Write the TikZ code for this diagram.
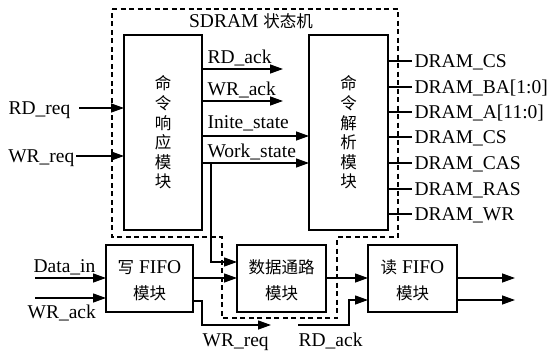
\documentclass[tikz,border=0pt]{standalone}
\usepackage{fontspec}
\setmainfont{Liberation Serif}
\newfontfamily\cjk{Noto Sans CJK SC}
\usetikzlibrary{arrows.meta}
\newcommand{\zhtext}[1]{{\cjk\fontsize{16.5}{19.6}\selectfont #1}}
\begin{document}
\begin{tikzpicture}[x=1pt,y=-1pt,line width=1.3pt,
  box/.style={draw,line width=1.3pt,inner sep=0pt,outer sep=0pt},
  lbl/.style={font=\fontsize{19.5}{21}\selectfont,inner sep=0pt},
  vtext/.style={font=\cjk\fontsize{16.5}{19.6}\selectfont,align=center,inner sep=0pt},
  btext/.style={font=\fontsize{19.5}{26}\selectfont,align=center,inner sep=0pt},
  arr/.style={-{Triangle[length=13pt,width=9pt]}},
  grp/.style={dash pattern=on 5pt off 3.5pt,line width=1.1pt}]
\useasboundingbox (0,0) rectangle (552,351);
% group outline
\draw[grp] (112,9) -- (398,9) -- (398,237) -- (337,237) -- (337,318) -- (222,318) -- (222,237) -- (112,237) -- cycle;
\node[lbl] (title) at (251,21) {SDRAM \zhtext{状态机}};
% boxes
\node[box,minimum width=78pt,minimum height=195pt] (resp) at (163,132.5) {};
\node[vtext] (resptxt) at (resp.center) {命\\令\\响\\应\\模\\块};
\node[box,minimum width=79pt,minimum height=195pt] (parse) at (348.5,132.5) {};
\node[vtext] (parsetxt) at (parse.center) {命\\令\\解\\析\\模\\块};
\node[box,minimum width=87pt,minimum height=67pt] (wfifo) at (149.5,278.5) {};
\node[btext] (wfifotxt) at ([yshift=-2pt]wfifo.center) {\zhtext{写} FIFO\\\zhtext{模块}};
\node[box,minimum width=89pt,minimum height=67pt] (path) at (281.5,278.5) {};
\node[btext] (pathtxt) at ([yshift=-2pt]path.center) {\zhtext{数据通路}\\\zhtext{模块}};
\node[box,minimum width=89pt,minimum height=67pt] (rfifo) at (412.5,278.5) {};
\node[btext] (rfifotxt) at ([yshift=-2pt]rfifo.center) {\zhtext{读} FIFO\\\zhtext{模块}};
% left inputs
\coordinate (rdreqs) at (79,108);
\coordinate (wrreqs) at (76,156);
\draw[arr] (rdreqs) -- (rdreqs -| resp.west);
\draw[arr] (wrreqs) -- (wrreqs -| resp.west);
\node[lbl,anchor=base east] (rdreq) at (71,114.5) {RD\_req};
\node[lbl,anchor=base east] (wrreq) at (75,162.5) {WR\_req};
% resp -> outputs
\coordinate (rdacke) at (283,69);
\coordinate (wracke) at (283,101);
\draw[arr] (rdacke -| resp.east) -- (rdacke);
\draw[arr] (wracke -| resp.east) -- (wracke);
\draw[arr] (resp.east |- 0,136) -- (parse.west |- 0,136);
\draw[arr] (resp.east |- 0,163) -- (parse.west |- 0,163);
\node[lbl,anchor=base west] (rdack) at (207,63) {RD\_ack};
\node[lbl,anchor=base west] (wrack) at (207,95) {WR\_ack};
\node[lbl,anchor=base west] (inite) at (207,128) {Inite\_state};
\node[lbl,anchor=base west] (work) at (207,157) {Work\_state};
% work_state to data path
\coordinate (wsdown) at (211,163);
\draw[arr] (wsdown) -- (211,262) -- (path.west |- 0,262);
% DRAM outputs
\foreach \yy/\nm/\txt in {61/a/DRAM\_CS,87/b/DRAM\_BA[1:0],112/c/DRAM\_A[11:0],137/d/DRAM\_CS,163/e/DRAM\_CAS,189/f/DRAM\_RAS,214/g/DRAM\_WR}{
  \coordinate (o\nm) at (412,\yy);
  \draw (parse.east |- o\nm) -- (o\nm);
  \node[lbl,anchor=base west] (l\nm) at (414,\yy+6.5) {\txt};
}
% write fifo
\coordinate (dins) at (35,278);
\coordinate (wacks) at (35,298);
\draw[arr] (dins) -- (dins -| wfifo.west);
\draw[arr] (wacks) -- (wacks -| wfifo.west);
\node[lbl,anchor=base west] (din) at (33,272) {Data\_in};
\node[lbl,anchor=base west] (wack2) at (27,318.5) {WR\_ack};
\draw[arr] (wfifo.east |- 0,278) -- (path.west |- 0,278);
\coordinate (wreqe) at (271,325);
\draw[arr] (wfifo.east |- 0,301) -- (202,301) -- (202,325) -- (wreqe);
\node[lbl,anchor=base west] (wreq2) at (202,346) {WR\_req};
% data path -> read fifo
\draw[arr] (path.east |- 0,278) -- (rfifo.west |- 0,278);
\coordinate (racks) at (298,325);
\draw[arr] (racks) -- (349,325) -- (349,300) -- (rfifo.west |- 0,300);
\node[lbl,anchor=base west] (rack2) at (298,346) {RD\_ack};
% read fifo outputs
\coordinate (ro1) at (515,278);
\coordinate (ro2) at (515,300);
\draw[arr] (rfifo.east |- ro1) -- (ro1);
\draw[arr] (rfifo.east |- ro2) -- (ro2);
\end{tikzpicture}
\end{document}
